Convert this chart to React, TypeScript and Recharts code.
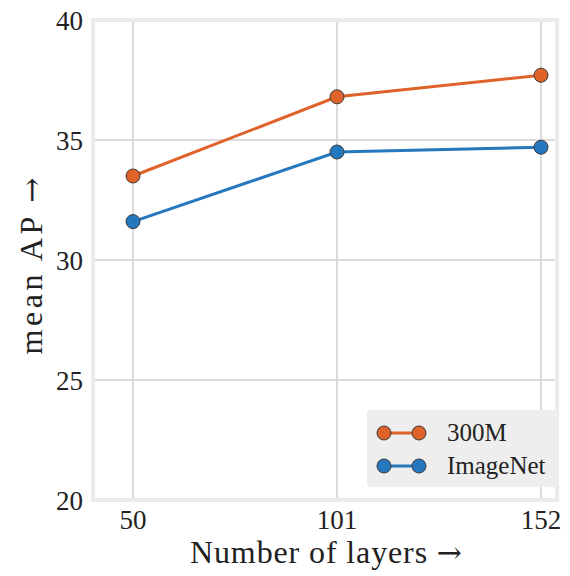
import React from 'react';
import { LineChart, Line, XAxis, YAxis, CartesianGrid, ReferenceArea, Label } from 'recharts';

const layers = [50, 101, 152];
const ap300M = [33.5, 36.8, 37.7];
const apImageNet = [31.6, 34.5, 34.7];
const xTicks = [50, 101, 152];
const yTicks = [20, 25, 30, 35, 40];
const seriesNames = ['300M', 'ImageNet'];

const data = layers.map((l, i) => ({ layers: l, m300: ap300M[i], imagenet: apImageNet[i] }));

const FONT = '"Liberation Serif", "DejaVu Serif", serif';
const ARROW_FONT = '"DejaVu Serif", serif';
const ORANGE = '#e0622b';
const BLUE = '#2678be';
const colors = [ORANGE, BLUE];

const LegendBox = () => (
  <div style={{ position: 'absolute', left: 367, top: 410, background: '#eeeeee', borderRadius: 4, width: 191, height: 77, boxSizing: 'border-box', paddingTop: 6 }}>
    {seriesNames.map((name, i) => (
      <div key={i} style={{ display: 'flex', alignItems: 'center', height: 33 }}>
        <svg width={70} height={20} style={{ display: 'block' }}>
          <line x1={17} y1={10} x2={52} y2={10} stroke={colors[i]} strokeWidth={3} />
          <circle cx={17} cy={10} r={7} fill={colors[i]} stroke="#3a3a3a" strokeWidth={1} />
          <circle cx={52} cy={10} r={7} fill={colors[i]} stroke="#3a3a3a" strokeWidth={1} />
        </svg>
        <span style={{ fontFamily: FONT, fontSize: 25, color: '#222', marginLeft: 10 }}>{name}</span>
      </div>
    ))}
  </div>
);

export default function App() {
  return (
    <div style={{ position: 'absolute', left: 0, top: 0, width: 570, height: 576 }}>
      <LineChart width={570} height={576} data={data} margin={{ top: 20, right: 13, left: 0, bottom: 0 }}>
        <CartesianGrid stroke="#cfcfcf" strokeWidth={1.5} />
        <XAxis
          dataKey="layers"
          type="number"
          domain={[40, 156]}
          ticks={xTicks}
          axisLine={false}
          tickLine={false}
          tickMargin={4}
          height={76}
          tick={{ fontFamily: FONT, fontSize: 27, fill: '#222' }}
        >
          <Label
            content={(p: any) => {
              const vb = p.viewBox;
              const cx = vb.x + vb.width / 2 + 1;
              return (
                <text x={cx - 136} y={563} textLength={272} lengthAdjust="spacing" fontFamily={FONT} fontSize={32} fill="#222">
                  Number of layers <tspan fontFamily={ARROW_FONT} fontSize={30}>→</tspan>
                </text>
              );
            }}
          />
        </XAxis>
        <YAxis
          type="number"
          domain={[20, 40]}
          ticks={yTicks}
          axisLine={false}
          tickLine={false}
          tickMargin={4}
          width={93}
          tick={{ fontFamily: FONT, fontSize: 27, fill: '#222' }}
        >
          <Label
            content={() => {
              const cy = 266;
              return (
                <text x={31} y={cy} transform={`rotate(-90, 31, ${cy})`} textAnchor="middle" dominantBaseline="central" textLength={177} lengthAdjust="spacing" fontFamily={FONT} fontSize={32} fill="#222">
                  mean AP <tspan fontFamily={ARROW_FONT} fontSize={30}>→</tspan>
                </text>
              );
            }}
          />
        </YAxis>
        <ReferenceArea x1={40} x2={156} y1={20} y2={40} fill="none" stroke="#ebebeb" strokeWidth={4} />
        <Line
          dataKey="m300"
          name={seriesNames[0]}
          stroke={ORANGE}
          strokeWidth={3}
          dot={{ r: 7, fill: ORANGE, stroke: '#3a3a3a', strokeWidth: 1 }}
          activeDot={false}
          isAnimationActive={false}
        />
        <Line
          dataKey="imagenet"
          name={seriesNames[1]}
          stroke={BLUE}
          strokeWidth={3}
          dot={{ r: 7, fill: BLUE, stroke: '#3a3a3a', strokeWidth: 1 }}
          activeDot={false}
          isAnimationActive={false}
        />
      </LineChart>
      <LegendBox />
    </div>
  );
}
